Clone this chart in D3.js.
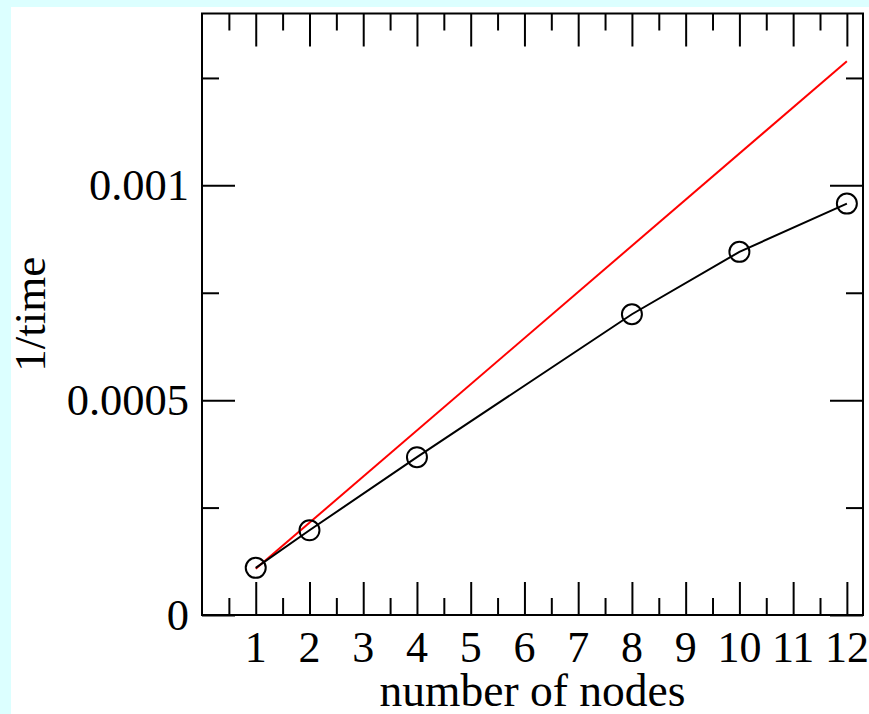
<!DOCTYPE html>
<html>
<head>
<meta charset="utf-8">
<script src="https://cdn.jsdelivr.net/npm/d3@7"></script>
<style>
  html, body { margin: 0; padding: 0; background: #dcffff; }
  svg { display: block; }
</style>
</head>
<body>
<svg id="chart" width="869" height="714"></svg>
<script>
// ---- data ----
const nodes = [1, 2, 4, 8, 10, 12];
const invTime = [0.0001097, 0.0001972, 0.0003673, 0.0007, 0.0008452, 0.0009575];
const idealNodes = [1, 12];
const idealInvTime = [0.0001074, 0.001289];
const xTickValues = [1, 2, 3, 4, 5, 6, 7, 8, 9, 10, 11, 12];
const xMinorTickValues = [0.5, 1.5, 2.5, 3.5, 4.5, 5.5, 6.5, 7.5, 8.5, 9.5, 10.5, 11.5];
const yTickValues = [0, 0.0005, 0.001];
const yTickLabels = ["0", "0.0005", "0.001"];
const yMinorTickValues = [0.00025, 0.00075, 0.00125];

const svg = d3.select("#chart");
// white panel
svg.append("rect").attr("x", 11).attr("y", 7).attr("width", 869 - 11).attr("height", 714 - 7).attr("fill", "#ffffff");

const L = 202, R = 863, T = 13.5, B = 615;
const x = d3.scaleLinear().domain([0, 12.3]).range([L, R]);
const y = d3.scaleLinear().domain([0, 0.0014]).range([B, T]);

const font = "'Liberation Serif', 'Times New Roman', serif";
const majorLen = 33, minorLen = 17;

// bottom axis
svg.append("g").attr("transform", `translate(0,${B})`)
  .call(d3.axisTop(x).tickValues(xTickValues).tickSize(majorLen).tickFormat(""));
svg.append("g").attr("transform", `translate(0,${B})`)
  .call(d3.axisTop(x).tickValues(xMinorTickValues).tickSize(minorLen).tickFormat(""));
// top axis
svg.append("g").attr("transform", `translate(0,${T})`)
  .call(d3.axisBottom(x).tickValues(xTickValues).tickSize(majorLen).tickFormat(""));
svg.append("g").attr("transform", `translate(0,${T})`)
  .call(d3.axisBottom(x).tickValues(xMinorTickValues).tickSize(minorLen).tickFormat(""));
// left axis
svg.append("g").attr("transform", `translate(${L},0)`)
  .call(d3.axisRight(y).tickValues(yTickValues).tickSize(majorLen).tickFormat(""));
svg.append("g").attr("transform", `translate(${L},0)`)
  .call(d3.axisRight(y).tickValues(yMinorTickValues).tickSize(minorLen).tickFormat(""));
// right axis
svg.append("g").attr("transform", `translate(${R},0)`)
  .call(d3.axisLeft(y).tickValues(yTickValues).tickSize(majorLen).tickFormat(""));
svg.append("g").attr("transform", `translate(${R},0)`)
  .call(d3.axisLeft(y).tickValues(yMinorTickValues).tickSize(minorLen).tickFormat(""));

svg.selectAll(".domain").remove();
svg.selectAll(".tick line").attr("stroke", "#000").attr("stroke-width", 2);

// frame
svg.append("rect").attr("x", L).attr("y", T).attr("width", R - L).attr("height", B - T)
  .attr("fill", "none").attr("stroke", "#000").attr("stroke-width", 2);

// tick labels
svg.append("g").selectAll("text").data(xTickValues).join("text")
  .attr("x", d => x(d)).attr("y", 662)
  .attr("text-anchor", "middle")
  .attr("font-family", font).attr("font-size", 44)
  .text(d => d);

svg.append("g").selectAll("text").data(yTickValues).join("text")
  .attr("x", 189).attr("y", d => y(d)).attr("dy", "0.34em")
  .attr("text-anchor", "end")
  .attr("font-family", font).attr("font-size", 44.5)
  .text((d, i) => yTickLabels[i]);

// axis titles
svg.append("text").attr("x", (L + R) / 2).attr("y", 706)
  .attr("text-anchor", "middle").attr("font-family", font).attr("font-size", 45.5)
  .text("number of nodes");
svg.append("text").attr("transform", `translate(45,${(T + B) / 2}) rotate(-90)`)
  .attr("text-anchor", "middle").attr("font-family", font).attr("font-size", 45)
  .text("1/time");

// ideal (red) line
const idealData = idealNodes.map((n, i) => [n, idealInvTime[i]]);
svg.append("path").datum(idealData)
  .attr("fill", "none").attr("stroke", "#ff0000").attr("stroke-width", 2)
  .attr("d", d3.line().x(d => x(d[0])).y(d => y(d[1])));

// measured line
const data = nodes.map((n, i) => [n, invTime[i]]);
svg.append("path").datum(data)
  .attr("fill", "none").attr("stroke", "#000").attr("stroke-width", 2)
  .attr("d", d3.line().x(d => x(d[0])).y(d => y(d[1])));

svg.append("g").selectAll("circle").data(data).join("circle")
  .attr("cx", d => x(d[0])).attr("cy", d => y(d[1])).attr("r", 10)
  .attr("fill", "none").attr("stroke", "#000").attr("stroke-width", 2);
</script>
</body>
</html>
